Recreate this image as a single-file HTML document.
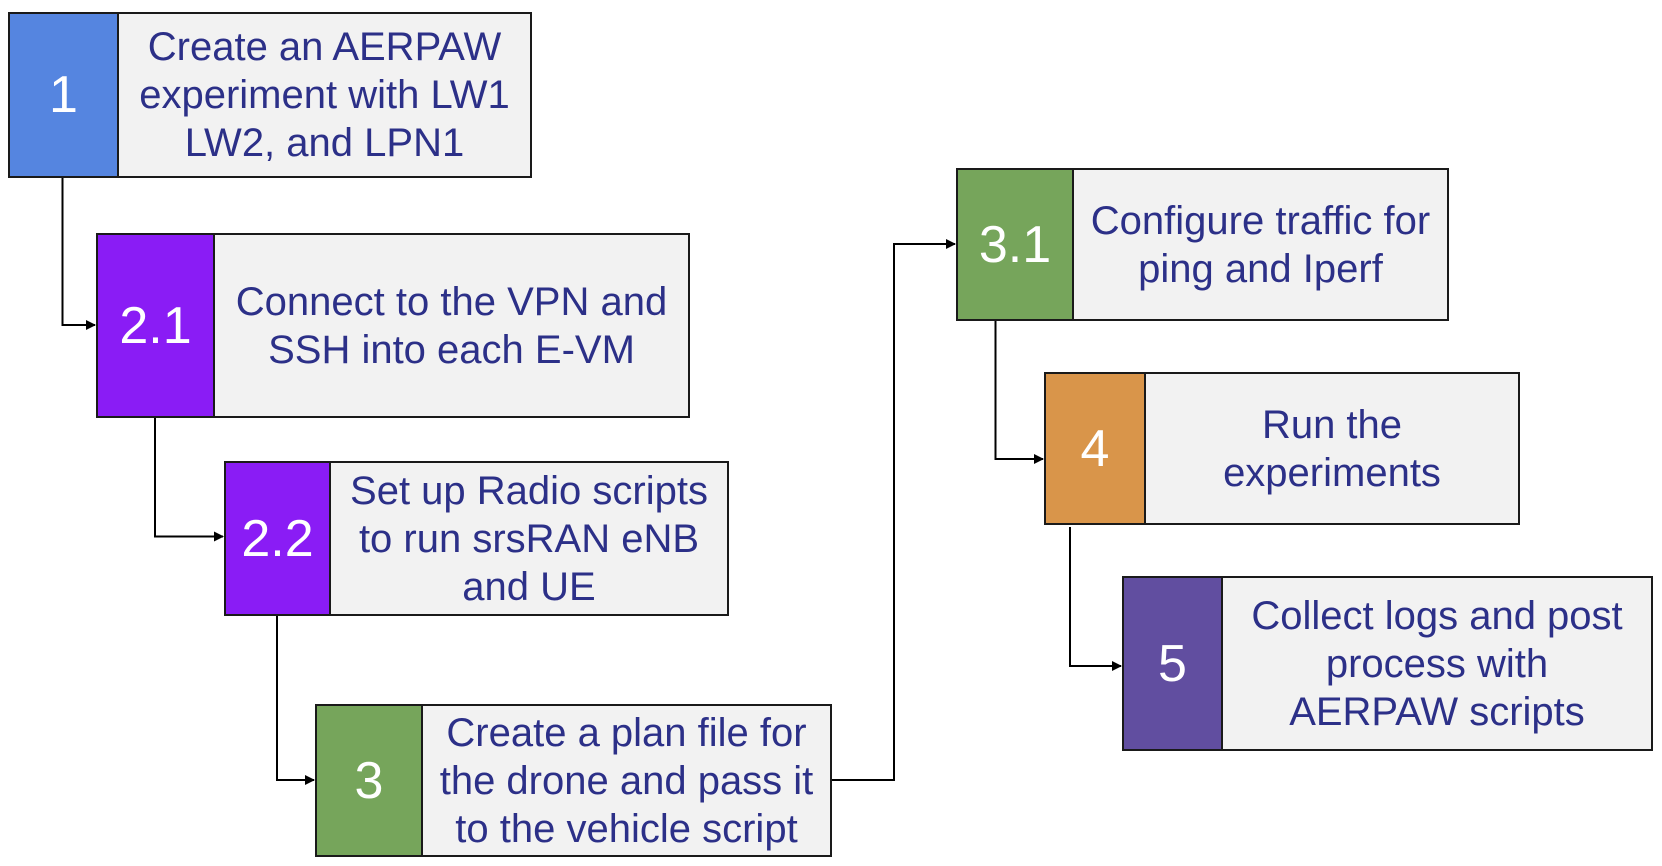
<!DOCTYPE html>
<html><head><style>
body{margin:0;width:1662px;height:866px;background:#fff;position:relative;overflow:hidden;font-family:"Liberation Sans",Arial,sans-serif}
.b{position:absolute;box-sizing:border-box;border:2px solid #1a1a1a;background:#f2f2f2;display:flex}
.n{height:100%;border-right:2px solid #1a1a1a;color:#fff;font-size:52px;display:flex;align-items:center;justify-content:center;box-sizing:border-box}
.t{flex:1;color:#2c3088;font-size:40px;line-height:48px;text-align:center;display:flex;align-items:center;justify-content:center;white-space:nowrap}
svg{position:absolute;left:0;top:0}
</style></head><body>
<svg width="1662" height="866">
<defs><marker id="a" markerWidth="10" markerHeight="10" refX="9" refY="5" orient="auto" markerUnits="userSpaceOnUse"><path d="M0,0 L10,5 L0,10z" fill="#000"/></marker></defs>
<g fill="none" stroke="#000" stroke-width="2">
<path d="M62.5 178 V325 H95" marker-end="url(#a)"/>
<path d="M155 417 V536.5 H223" marker-end="url(#a)"/>
<path d="M277 614 V780 H314" marker-end="url(#a)"/>
<path d="M831 780 H894 V244 H955" marker-end="url(#a)"/>
<path d="M995.5 320 V459 H1043" marker-end="url(#a)"/>
<path d="M1070 527 V666 H1121" marker-end="url(#a)"/>
</g></svg>
<div class="b" style="left:8px;top:12px;width:524px;height:166px"><div class="n" style="width:109px;background:#5585e0">1</div><div class="t">Create an AERPAW<br>experiment with LW1<br>LW2, and LPN1</div></div>
<div class="b" style="left:96px;top:233px;width:594px;height:185px"><div class="n" style="width:117px;background:#8a1cf5">2.1</div><div class="t">Connect to the VPN and<br>SSH into each E-VM</div></div>
<div class="b" style="left:224px;top:461px;width:505px;height:155px"><div class="n" style="width:105px;background:#8a1cf5">2.2</div><div class="t">Set up Radio scripts<br>to run srsRAN eNB<br>and UE</div></div>
<div class="b" style="left:315px;top:704px;width:517px;height:153px"><div class="n" style="width:106px;background:#76a55b">3</div><div class="t">Create a plan file for<br>the drone and pass it<br>to the vehicle script</div></div>
<div class="b" style="left:956px;top:168px;width:493px;height:153px"><div class="n" style="width:116px;background:#76a55b">3.1</div><div class="t">Configure traffic for<br>ping and Iperf</div></div>
<div class="b" style="left:1044px;top:372px;width:476px;height:153px"><div class="n" style="width:100px;background:#d9954a">4</div><div class="t">Run the<br>experiments</div></div>
<div class="b" style="left:1122px;top:576px;width:531px;height:175px"><div class="n" style="width:99px;background:#614ea0">5</div><div class="t">Collect logs and post<br>process with<br>AERPAW scripts</div></div>
</body></html>
